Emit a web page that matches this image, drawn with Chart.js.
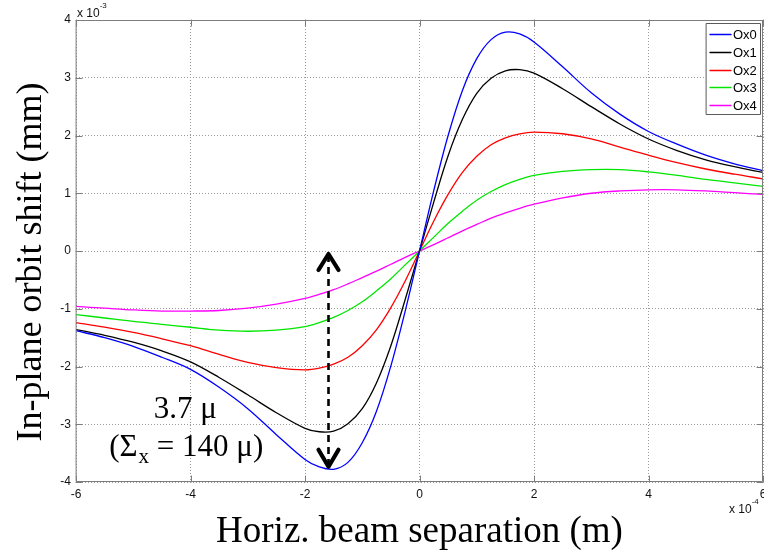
<!DOCTYPE html>
<html>
<head>
<meta charset="utf-8">
<script src="https://cdn.jsdelivr.net/npm/chart.js@4/dist/chart.umd.min.js"></script>
<style>
html,body{margin:0;padding:0;background:#fff;overflow:hidden}
#wrap{width:764px;height:558px}
</style>
</head>
<body>
<div id="wrap"><canvas id="c" width="764" height="558"></canvas></div>
<script>
// Horizontal beam separation (x 1e-4 m)
const separation = [-6,-5.5,-5,-4.5,-4,-3.5,-3,-2.5,-2,-1.75,-1.5,-1.25,-1,-0.75,-0.5,-0.25,0,
                    0.25,0.5,0.75,1,1.25,1.5,1.75,2,2.5,3,3.5,4,4.5,5,5.5,6];
// In-plane orbit shift (x 1e-3 mm)
const ox0 = [-1.38,-1.50,-1.65,-1.84,-2.05,-2.36,-2.73,-3.18,-3.61,-3.74,-3.78,-3.66,-3.32,-2.77,-1.99,-1.04,0,
             1.05,2.00,2.78,3.33,3.66,3.79,3.76,3.62,3.19,2.74,2.37,2.07,1.85,1.66,1.51,1.39];
const ox1 = [-1.36,-1.46,-1.58,-1.73,-1.92,-2.19,-2.49,-2.80,-3.07,-3.13,-3.12,-2.99,-2.73,-2.28,-1.64,-0.84,0,
             0.85,1.65,2.28,2.73,2.99,3.12,3.14,3.08,2.81,2.50,2.20,1.94,1.74,1.58,1.46,1.36];
const ox2 = [-1.24,-1.32,-1.41,-1.52,-1.64,-1.79,-1.93,-2.02,-2.06,-2.03,-1.96,-1.84,-1.64,-1.36,-0.98,-0.52,0,
             0.52,0.98,1.36,1.64,1.84,1.96,2.03,2.06,2.03,1.94,1.80,1.66,1.53,1.42,1.33,1.25];
const ox3 = [-1.10,-1.16,-1.22,-1.27,-1.32,-1.37,-1.39,-1.37,-1.31,-1.24,-1.15,-1.03,-0.88,-0.69,-0.48,-0.24,0,
             0.24,0.48,0.69,0.88,1.03,1.15,1.24,1.31,1.38,1.41,1.41,1.37,1.31,1.24,1.18,1.12];
const ox4 = [-0.96,-0.99,-1.02,-1.04,-1.04,-1.03,-0.99,-0.92,-0.82,-0.75,-0.67,-0.57,-0.46,-0.35,-0.23,-0.11,0,
             0.11,0.23,0.35,0.46,0.57,0.66,0.74,0.81,0.92,1.00,1.04,1.06,1.06,1.04,1.01,0.98];
const seriesNames = ['Ox0','Ox1','Ox2','Ox3','Ox4'];
const seriesColors = ['#0000ff','#000000','#ff0000','#00e600','#ff00ff'];
const xTicks = [-6,-4,-2,0,2,4,6];
const yTicks = [-4,-3,-2,-1,0,1,2,3,4];
const xTitle = 'Horiz. beam separation (m)';
const yTitle = 'In-plane orbit shift (mm)';
// Annotation: peak-to-peak arrow and labels (data coordinates)
const arrowX = [-1.6];
const arrowY = [0, -3.77];
const noteLines = ['3.7 \u03bc', '(\u03a3', 'x', ' = 140 \u03bc)'];
const noteAnchors = [[-4.64, -2.89], [-5.42, -3.55]];

const allSeries = [ox0, ox1, ox2, ox3, ox4];
const datasets = allSeries.map((vals, i) => ({
  label: seriesNames[i],
  data: separation.map((sx, k) => ({x: sx, y: vals[k]})),
  borderColor: seriesColors[i],
  backgroundColor: seriesColors[i],
  borderWidth: 1.3,
  pointRadius: 0,
  fill: false,
  tension: 0.35
}));

const serif = '"Liberation Serif", "Times New Roman", serif';
const sans = '"Liberation Sans", Arial, sans-serif';

const decor = {
  id: 'decor',
  afterDatasetsDraw(chart) {
    const {ctx, chartArea: a, scales: {x, y}} = chart;
    ctx.save();
    // dashed double arrow
    const ax = Math.round(x.getPixelForValue(arrowX[0])) + 0.5;
    const y0 = y.getPixelForValue(arrowY[0]);
    const y1 = y.getPixelForValue(arrowY[1]);
    ctx.strokeStyle = '#000';
    ctx.lineWidth = 2.6;
    ctx.setLineDash([7, 5]);
    ctx.beginPath(); ctx.moveTo(ax, y0 + 4); ctx.lineTo(ax, y1 - 4); ctx.stroke();
    ctx.setLineDash([]);
    ctx.lineWidth = 4.2; ctx.lineCap = 'round'; ctx.lineJoin = 'round';
    ctx.beginPath(); ctx.moveTo(ax - 10, y0 + 19); ctx.lineTo(ax, y0 + 3); ctx.lineTo(ax + 10, y0 + 19); ctx.stroke();
    ctx.beginPath(); ctx.moveTo(ax - 10, y1 - 19); ctx.lineTo(ax, y1 - 2); ctx.lineTo(ax + 10, y1 - 19); ctx.stroke();
    // labels
    ctx.fillStyle = '#000';
    ctx.textBaseline = 'alphabetic';
    ctx.textAlign = 'left';
    ctx.font = '31px ' + serif;
    ctx.fillText(noteLines[0], x.getPixelForValue(noteAnchors[0][0]), y.getPixelForValue(noteAnchors[0][1]));
    let tx = x.getPixelForValue(noteAnchors[1][0]);
    const ty = y.getPixelForValue(noteAnchors[1][1]);
    ctx.fillText(noteLines[1], tx, ty);
    tx += ctx.measureText(noteLines[1]).width;
    ctx.font = '21px ' + serif;
    ctx.fillText(noteLines[2], tx + 1, ty + 7);
    tx += ctx.measureText(noteLines[2]).width + 1;
    ctx.font = '31px ' + serif;
    ctx.fillText(noteLines[3], tx, ty);

    // axes box and inward ticks
    ctx.strokeStyle = '#7d7d7d';
    ctx.lineWidth = 1;
    ctx.strokeRect(a.left + 0.5, a.top + 0.5, a.right - a.left - 1, a.bottom - a.top - 1);
    ctx.beginPath();
    xTicks.forEach(v => {
      const p = Math.round(x.getPixelForValue(v)) + 0.5;
      ctx.moveTo(p, a.bottom); ctx.lineTo(p, a.bottom - 6);
      ctx.moveTo(p, a.top); ctx.lineTo(p, a.top + 6);
    });
    yTicks.forEach(v => {
      const p = Math.round(y.getPixelForValue(v)) + 0.5;
      ctx.moveTo(a.left, p); ctx.lineTo(a.left + 6, p);
      ctx.moveTo(a.right, p); ctx.lineTo(a.right - 6, p);
    });
    ctx.stroke();

    // legend box
    const lw = 54, lh = 91;
    const lx = a.right - 57, ly = a.top + 3;
    ctx.fillStyle = '#fff';
    ctx.fillRect(lx, ly, lw, lh);
    ctx.strokeStyle = '#5a5a5a';
    ctx.strokeRect(lx + 0.5, ly + 0.5, lw, lh);
    ctx.font = '13px ' + sans;
    ctx.textBaseline = 'middle';
    chart.data.datasets.forEach((ds, i) => {
      const ry = Math.round(ly + 11 + i * 17.8) + 0.5;
      ctx.strokeStyle = ds.borderColor;
      ctx.lineWidth = 1.3;
      ctx.beginPath(); ctx.moveTo(lx + 4, ry); ctx.lineTo(lx + 25, ry); ctx.stroke();
      ctx.fillStyle = '#000';
      ctx.fillText(ds.label, lx + 27, ry + 1);
    });

    // axis multipliers
    ctx.fillStyle = '#111';
    ctx.textBaseline = 'alphabetic';
    ctx.font = '12px ' + sans;
    ctx.fillText('x 10', a.left + 1, a.top - 3);
    let w = ctx.measureText('x 10').width;
    ctx.font = '8px ' + sans;
    ctx.fillText('-3', a.left + 1 + w, a.top - 12);
    ctx.font = '12px ' + sans;
    ctx.fillText('x 10', a.right - 34, a.bottom + 31);
    w = ctx.measureText('x 10').width;
    ctx.font = '8px ' + sans;
    ctx.fillText('-4', a.right - 34 + w, a.bottom + 22);

    // y-axis title
    ctx.save();
    ctx.translate(32, (a.top + a.bottom) / 2 + 11);
    ctx.rotate(-Math.PI / 2);
    ctx.textAlign = 'center';
    ctx.textBaseline = 'middle';
    ctx.fillStyle = '#000';
    ctx.font = '36px ' + serif;
    ctx.fillText(yTitle, 0, 0);
    ctx.restore();
    ctx.restore();
  }
};

new Chart(document.getElementById('c'), {
  type: 'line',
  data: {datasets},
  options: {
    responsive: false,
    devicePixelRatio: 1,
    animation: false,
    layout: {padding: {top: 20, right: 1, left: 0, bottom: 0}},
    plugins: {legend: {display: false}, tooltip: {enabled: false}},
    scales: {
      x: {
        type: 'linear',
        min: -6, max: 6,
        afterBuildTicks: s => { s.ticks = xTicks.map(v => ({value: v})); },
        afterFit: s => { s.height = 76; s.paddingLeft = 0; s.paddingRight = 0; },
        grid: {color: '#9a9a9a', lineWidth: 1, drawTicks: false},
        border: {display: false, dash: [1, 2]},
        ticks: {color: '#111', padding: 5, font: {family: sans, size: 12}, maxRotation: 0},
        title: {display: true, text: xTitle, color: '#000',
                font: {family: serif, size: 37}, padding: {top: 0, bottom: 4}}
      },
      y: {
        type: 'linear',
        min: -4, max: 4,
        afterBuildTicks: s => { s.ticks = yTicks.map(v => ({value: v})); },
        afterFit: s => { s.width = 76; s.paddingTop = 0; s.paddingBottom = 0; },
        grid: {color: '#9a9a9a', lineWidth: 1, drawTicks: false},
        border: {display: false, dash: [1, 2]},
        ticks: {color: '#111', padding: 5, font: {family: sans, size: 12}},
        title: {display: false}
      }
    }
  },
  plugins: [decor]
});
</script>
</body>
</html>
